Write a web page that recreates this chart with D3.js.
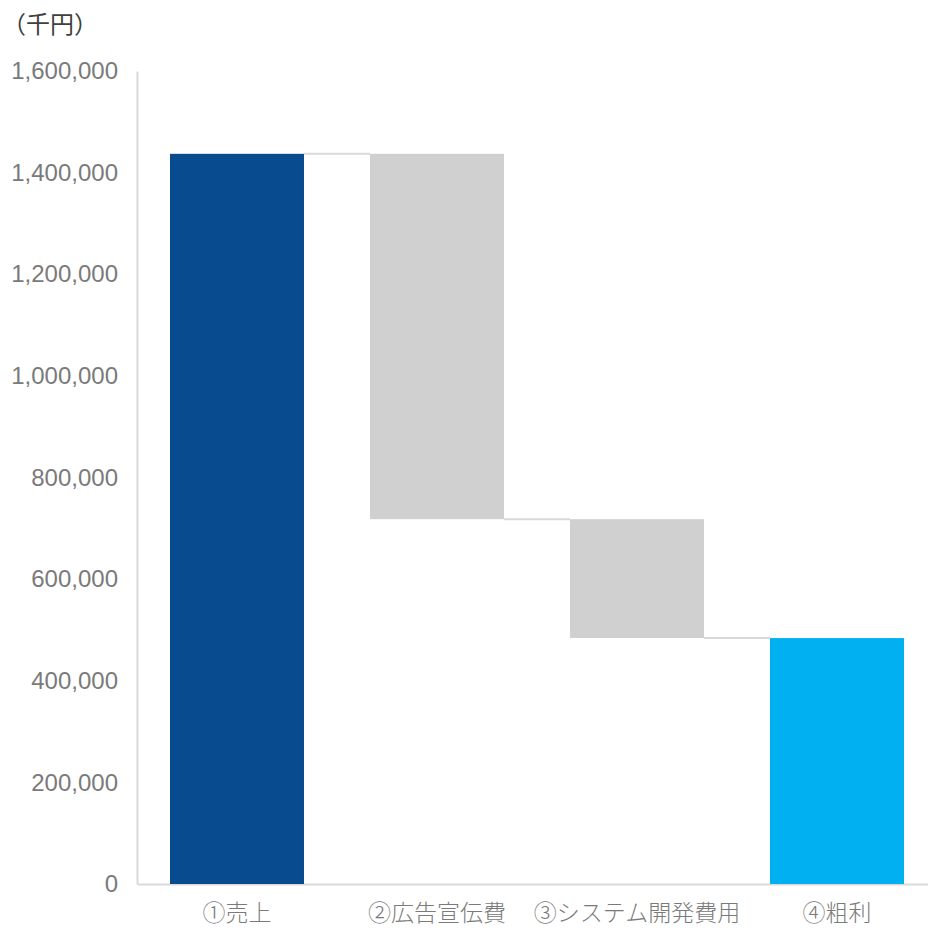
<!DOCTYPE html>
<html lang="ja">
<head>
    <meta charset="UTF-8">
    <title>粗利ウォーターフォール</title>
    <script src="https://d3js.org/d3.v7.min.js"></script>
    <style>
        body { margin: 0; background: #fff; }
        text { font-family: "Liberation Sans", Arial, "Noto Sans CJK JP", sans-serif; }
        .tick text { fill: #7a7a7a; font-size: 24px; }
        .unit { fill: #404040; font-size: 24px; }
    </style>
</head>
<body>
    <script>
        // data (千円)
        const categories = ["①売上", "②広告宣伝費", "③システム開発費用", "④粗利"];
        const amounts = [1437000, -719000, -234000, 484000];
        const kinds = ["total", "delta", "delta", "total"];
        const yTicks = [0, 200000, 400000, 600000, 800000, 1000000, 1200000, 1400000, 1600000];

        const width = 928, height = 930;
        const margin = { top: 71, right: -9, bottom: 46, left: 137 };

        const svg = d3.select("body").append("svg")
            .attr("width", width)
            .attr("height", height);

        // build waterfall steps
        let running = 0;
        const steps = categories.map((c, i) => {
            let start, end;
            if (kinds[i] === "total") {
                start = 0; end = amounts[i]; running = amounts[i];
            } else {
                start = running; end = running + amounts[i]; running = end;
            }
            return { cat: c, start, end, kind: kinds[i], idx: i };
        });

        const x = d3.scaleBand()
            .domain(categories)
            .range([margin.left, width - margin.right])
            .paddingInner(0.33)
            .paddingOuter(0.165);

        const y = d3.scaleLinear()
            .domain([0, 1600000])
            .range([height - margin.bottom, margin.top]);

        // y axis
        const yAxis = svg.append("g")
            .attr("transform", `translate(${margin.left},0)`)
            .call(d3.axisLeft(y).tickValues(yTicks).tickFormat(d3.format(",")).tickSize(0).tickPadding(19));
        yAxis.select(".domain").attr("stroke", "#d9d9d9").attr("stroke-width", 2);

        // x axis
        const xAxis = svg.append("g")
            .attr("transform", `translate(0,${y(0)})`)
            .call(d3.axisBottom(x).tickSize(0).tickPadding(21));
        xAxis.select(".domain").attr("stroke", "#d9d9d9").attr("stroke-width", 2);
        xAxis.selectAll(".tick text")
            .style("font-family", "'Noto Sans CJK JP', sans-serif")
            .style("font-size", "23px")
            .style("font-weight", 300);

        // connector lines
        svg.append("g").selectAll("line")
            .data(steps.slice(0, -1))
            .join("line")
            .attr("x1", d => x(d.cat) + x.bandwidth())
            .attr("x2", d => x(categories[d.idx + 1]))
            .attr("y1", d => y(d.end))
            .attr("y2", d => y(d.end))
            .attr("stroke", "#d9d9d9")
            .attr("stroke-width", 2);

        const colors = ["#094b8f", "#d0d0d0", "#d0d0d0", "#00b0f0"];

        svg.append("g").selectAll("rect")
            .data(steps)
            .join("rect")
            .attr("x", d => x(d.cat))
            .attr("width", x.bandwidth())
            .attr("y", d => y(Math.max(d.start, d.end)))
            .attr("height", d => Math.abs(y(d.start) - y(d.end)))
            .attr("fill", (d, i) => colors[i]);

        svg.append("text")
            .attr("class", "unit")
            .attr("x", 2)
            .attr("y", 33)
            .style("font-family", "'Noto Sans CJK JP', sans-serif")
            .text("（千円）");
    </script>
</body>
</html>
